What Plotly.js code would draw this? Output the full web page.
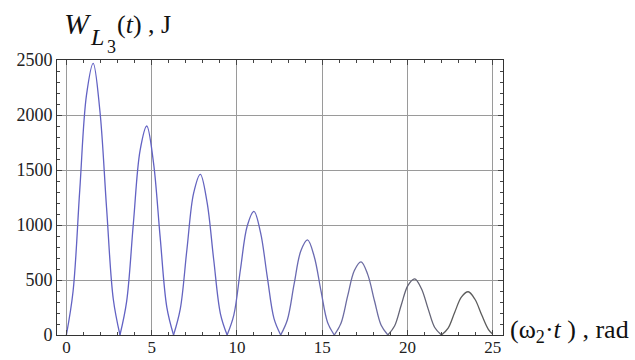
<!DOCTYPE html>
<html><head><meta charset="utf-8">
<script src="https://cdn.plot.ly/plotly-3.0.1.min.js"></script>
<style>html,body{margin:0;padding:0;background:#fff}#chart{width:635px;height:360px}</style>
</head><body><div id="chart"></div>
<script>
const tRad = [0,0.393,0.785,1.178,1.571,1.963,2.356,2.749,3.142,3.534,3.927,4.320,4.712,5.105,5.498,5.890,
  6.283,6.676,7.069,7.461,7.854,8.247,8.639,9.032,9.425,9.817,10.210,10.603,10.996,11.388,11.781,12.174,
  12.566,12.959,13.352,13.744,14.137,14.530,14.923,15.315,15.708,16.101,16.493,16.886,17.279,17.671,18.064,18.457,
  18.850,19.242,19.635,20.028,20.420,20.813,21.206,21.598,21.991,22.384,22.777,23.169,23.562,23.955,24.347,24.740,25.0];
const wL3 = [0,398,1319,2180,2470,2041,1157,327,0,306,1014,1676,1900,1570,890,251,
  0,235,780,1290,1461,1208,684,193,0,181,600,991,1124,928,526,149,
  0,139,462,763,864,714,405,114,0,107,355,587,665,549,311,88,
  0,82,273,451,511,423,240,68,0,63,210,347,393,325,184,52,6];
const xTicks = [0,5,10,15,20,25];
const yTicks = [0,500,1000,1500,2000,2500];
const humpColors = ['#6262c4','#6262c4','#6464c0','#6666bc','#6a6ab2','#6c6ca2','#646476','#5c5c5c'];

const traces = [];
for (let h = 0; h < 8; h++) {
  const a = h*8, b = Math.min(h*8+8, tRad.length-1);
  traces.push({x: tRad.slice(a, b+1), y: wL3.slice(a, b+1), type:'scatter', mode:'lines',
    line:{color: humpColors[h], width:1.3, shape:'spline', smoothing:1}, hoverinfo:'skip', showlegend:false});
}

const SERIF = 'Liberation Serif';
const font = {family:SERIF, size:18, color:'#222'};
const axisCommon = {showline:true, linecolor:'#333', linewidth:1, mirror:'allticks',
  ticks:'inside', ticklen:5, tickcolor:'#444', tickwidth:1,
  showgrid:true, gridcolor:'#9a9a9a', gridwidth:1, zeroline:false, fixedrange:true};
function lbl(text, size, xs, ys) {
  return {xref:'paper', yref:'paper', x:0, y:1, xshift:xs, yshift:ys, xanchor:'left', yanchor:'middle',
    showarrow:false, text:text, borderpad:0, font:{family:SERIF, size:size, color:'#111'}};
}
const layout = {
  width:635, height:360, margin:{l:57, r:132, t:60, b:25},
  paper_bgcolor:'#fff', plot_bgcolor:'#fff', font:font,
  xaxis: Object.assign({}, axisCommon, {range:[-0.55,25.6], tickvals:xTicks, ticktext:xTicks.map(String),
    tickfont:{family:SERIF, size:17, color:'#222'}, ticklabelstandoff:-3,
    minor:{dtick:1, tick0:0, ticks:'inside', ticklen:3, tickcolor:'#444', showgrid:false}}),
  yaxis: Object.assign({}, axisCommon, {range:[0,2500], tickvals:yTicks, ticktext:yTicks.map(String),
    tickfont:{family:SERIF, size:18, color:'#222'},
    minor:{dtick:100, tick0:0, ticks:'inside', ticklen:3, tickcolor:'#444', showgrid:false}}),
  annotations:[
    lbl('<i>W</i>', 30, 6, 37),
    lbl('<i>L</i>', 24, 32, 23),
    lbl('3', 18, 49, 13),
    lbl('(<i>t</i>) , J', 26, 59, 36),
    {xref:'paper', yref:'paper', x:1.0, y:0, xshift:6, yshift:4, xanchor:'left', yanchor:'middle', showarrow:false,
     borderpad:0, text:'(ω<sub>2</sub>·<i>t</i> ) , rad', font:{family:SERIF, size:26, color:'#111'}}
  ]
};
Plotly.newPlot('chart', traces, layout, {displayModeBar:false, staticPlot:true});
</script></body></html>
